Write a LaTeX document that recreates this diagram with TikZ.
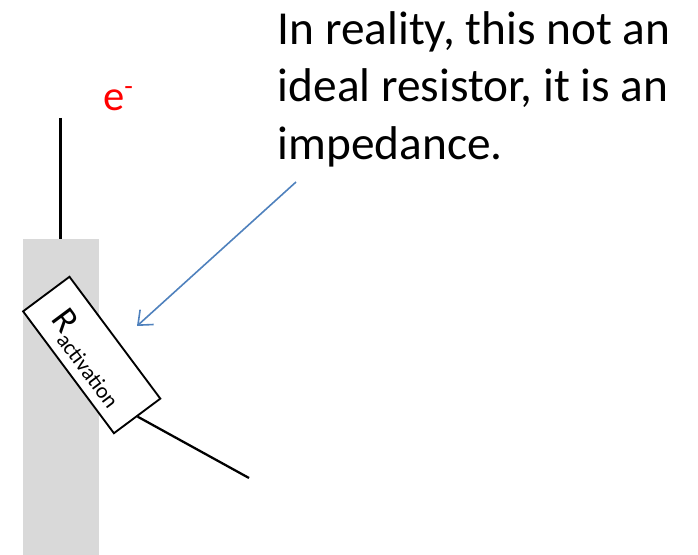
\documentclass[tikz,border=0pt]{standalone}
\usepackage{fontspec}
\setmainfont{Carlito}
\definecolor{grayband}{HTML}{D9D9D9}
\definecolor{arrowblue}{HTML}{4F81BD}
\usetikzlibrary{arrows.meta}
\tikzset{
  band/.style={fill=grayband,draw=none,anchor=north west,minimum width=57pt,minimum height=237pt,inner sep=0pt},
  wire/.style={draw=black,line width=1.7pt},
  resistor/.style={draw=black,fill=white,line width=1.4pt,minimum width=114pt,minimum height=43.4pt,inner sep=0pt,rotate=-53.3},
  callout/.style={draw=arrowblue,line width=1.2pt,-{Straight Barb[length=9pt,width=15pt,line width=1.2pt]}},
  note/.style={anchor=north west,inner sep=0pt,align=left,font=\fontsize{35.5}{43.2}\selectfont},
}
\begin{document}
\begin{tikzpicture}[x=0.75pt,y=-0.75pt]
\useasboundingbox (0,0) rectangle (698,555);
\node[band] (bar) at (23,239) {};
\coordinate (wiretop) at (60.5,118);
\draw[wire] (wiretop) -- (wiretop |- bar.north);
\coordinate (lead) at (249,478);
\node[resistor] (res) at (91.7,355) {};
\draw[wire] (res.east) -- (lead);
\node[rotate=-53.3,anchor=center] (reslabel) at (88.5,358) {\fontsize{27}{27}\selectfont R\raisebox{-6pt}{\fontsize{16.5}{16.5}\selectfont activation}};
\node[anchor=west,inner sep=0pt,text=red,font=\fontsize{32}{32}\selectfont] (eminus) at (103,98.5) {e\raisebox{11pt}{\fontsize{21}{21}\selectfont -}};
\node[note] (notetext) at (277.5,11) {In reality, this not an\\ideal resistor, it is an\\impedance.};
\coordinate (arrowstart) at (296,182);
\coordinate (arrowend) at (137,326);
\draw[callout] (arrowstart) -- (arrowend);
\end{tikzpicture}
\end{document}
